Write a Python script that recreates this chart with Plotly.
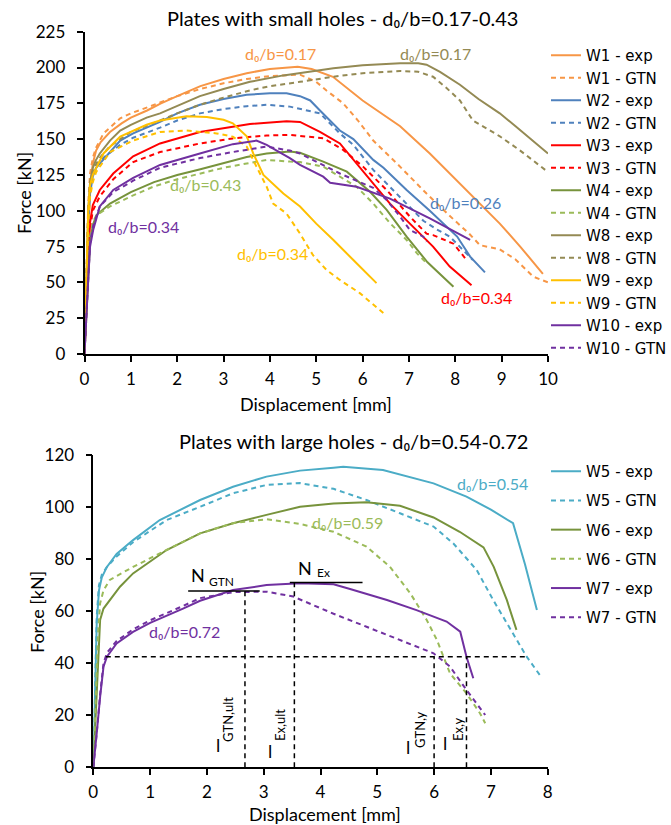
import plotly.graph_objects as go

W, H = 671, 825
FONT = "Lato"
LEG_FONT = "DejaVu Sans"

# ---------------- data: top chart (small holes) ----------------
W1_exp_x = [0, 0.04, 0.08, 0.12, 0.18, 0.25, 0.35, 0.55, 0.8, 1.0, 1.35, 1.65, 2.0, 2.5, 3.0, 3.5, 4.0, 4.6, 4.9, 5.36, 6.0, 6.81, 7.45, 8.04, 8.5, 8.96, 9.4, 9.89]
W1_exp_y = [0, 45, 90, 118, 133, 142, 148, 155, 161, 165, 170, 175, 180, 187, 192, 196, 199, 200.5, 199, 193.5, 177, 159, 140, 121, 106, 91, 75, 56]
W1_gtn_x = [0, 0.04, 0.08, 0.12, 0.18, 0.25, 0.41, 0.77, 1.0, 1.34, 1.65, 2.0, 2.5, 3.0, 3.5, 4.0, 4.65, 5.0, 5.22, 5.58, 5.9, 6.23, 6.74, 7.17, 7.38, 7.96, 8.3, 8.53, 8.96, 9.3, 9.68, 10.0]
W1_gtn_y = [0, 60, 105, 126, 137, 144, 154, 164.5, 168, 172, 176, 180, 185, 189, 192, 194, 195, 190, 184, 175, 163, 149, 133, 119, 112, 94, 84, 76, 73, 66, 54, 50]

W2_exp_x = [0, 0.04, 0.08, 0.12, 0.18, 0.25, 0.41, 0.77, 1.05, 1.34, 1.63, 2.0, 2.49, 3.0, 3.5, 4.0, 4.36, 4.65, 4.87, 5.08, 5.51, 5.8, 6.23, 6.45, 6.95, 7.45, 8.04, 8.32, 8.64]
W2_exp_y = [0, 45, 90, 112, 124, 130, 136, 149, 154, 158, 162, 168, 174, 178, 181, 182, 182, 180, 177, 170, 156, 150, 135.5, 130, 114.5, 100, 82, 68, 57]
W2_gtn_x = [0, 0.04, 0.08, 0.12, 0.18, 0.25, 0.41, 0.77, 1.05, 1.63, 2.0, 2.49, 3.0, 3.5, 3.93, 4.43, 4.65, 5.08, 5.51, 5.8, 6.23, 6.81, 7.17, 7.31, 7.6, 7.88, 8.38]
W2_gtn_y = [0, 50, 95, 115, 125, 131, 137, 146, 151, 158, 163, 168, 171, 173, 174, 172.7, 171, 168, 154, 146, 128.5, 109.8, 98, 93, 87, 82, 65.6]

W3_exp_x = [0, 0.04, 0.08, 0.12, 0.18, 0.33, 0.62, 1.05, 1.63, 2.49, 3.57, 4.36, 4.65, 5.08, 5.51, 5.87, 6.23, 6.59, 7.02, 7.38, 7.52, 7.88, 8.35]
W3_exp_y = [0, 35, 70, 92, 104, 114.5, 126, 138, 147, 155, 160.5, 162.5, 162, 155, 147, 133, 119, 105, 91, 79.6, 75, 61, 48]
W3_gtn_x = [0, 0.04, 0.08, 0.12, 0.18, 0.33, 0.62, 1.05, 1.63, 2.49, 3.2, 3.93, 4.43, 5.16, 5.58, 6.01, 6.52, 7.02, 7.38, 7.52, 7.96, 8.21]
W3_gtn_y = [0, 35, 68, 88, 100, 110, 122, 134, 141, 147, 150.5, 152.5, 153, 150.6, 142.5, 130.8, 114.5, 95.9, 84, 83, 77, 67]

W4_exp_x = [0, 0.04, 0.08, 0.12, 0.18, 0.26, 0.55, 1.0, 1.5, 2.0, 2.5, 3.0, 3.5, 3.93, 4.43, 4.65, 5.15, 5.66, 6.16, 6.52, 6.95, 7.4, 7.96]
W4_exp_y = [0, 30, 60, 78, 90, 97, 105, 113, 120, 125, 129, 133.5, 137.5, 140, 141.3, 140.5, 134.3, 127.3, 113.3, 100.6, 81.9, 64, 47]
W4_gtn_x = [0, 0.04, 0.08, 0.12, 0.18, 0.26, 0.55, 1.0, 1.5, 2.0, 2.5, 3.0, 3.5, 3.93, 4.43, 4.65, 5.15, 5.87, 6.23, 6.59, 6.95, 7.17, 7.38]
W4_gtn_y = [0, 35, 65, 82, 92, 97, 103, 110, 117, 122, 126, 130, 133, 135.5, 134.3, 134, 130.8, 116.8, 105, 91.4, 79.6, 70.4, 63.5]

W8_exp_x = [0, 0.04, 0.08, 0.12, 0.18, 0.24, 0.33, 0.55, 0.77, 1.0, 1.34, 1.63, 2.0, 2.49, 3.0, 3.57, 4.29, 4.65, 5.37, 6.0, 6.81, 7.2, 7.38, 7.67, 8.1, 8.5, 8.96, 9.3, 9.68, 10.0]
W8_exp_y = [0, 50, 100, 120, 130, 135, 140, 149, 156, 160, 165, 168, 173, 180, 185, 190, 194.5, 196, 199.5, 201.5, 203, 203, 202, 197, 188, 178, 168, 159, 149, 140]
W8_gtn_x = [0, 0.04, 0.08, 0.12, 0.18, 0.24, 0.33, 0.55, 1.0, 1.63, 2.0, 2.49, 3.0, 3.57, 4.0, 4.65, 5.37, 6.0, 6.81, 7.2, 7.52, 7.8, 8.1, 8.38, 8.96, 9.4, 10.0]
W8_gtn_y = [0, 55, 100, 118, 127, 132, 137, 145, 155, 163, 168, 174, 179, 184, 187, 190, 193.6, 196, 197.6, 197, 193.6, 186, 177, 163, 152, 142, 127]

W9_exp_x = [0, 0.04, 0.08, 0.12, 0.18, 0.23, 0.41, 0.77, 1.05, 1.34, 1.63, 2.2, 2.64, 3.0, 3.2, 3.5, 3.64, 3.86, 4.29, 4.65, 5.0, 5.37, 5.8, 6.3]
W9_exp_y = [0, 50, 100, 118, 125, 128.5, 140, 151.7, 156, 160, 163, 166, 165.5, 163.5, 161, 152, 140, 125, 112, 103, 91, 79.6, 65.6, 49.5]
W9_gtn_x = [0, 0.04, 0.08, 0.12, 0.18, 0.25, 0.55, 1.05, 1.63, 2.2, 2.85, 3.2, 3.5, 3.71, 3.93, 4.07, 4.36, 4.65, 4.93, 5.22, 5.51, 5.94, 6.45]
W9_gtn_y = [0, 45, 90, 110, 120, 127, 141, 149, 155, 156, 154, 151.7, 144.8, 130.8, 116.8, 105, 98, 84, 69, 58.7, 51.7, 42.5, 28.5]

W10_exp_x = [0, 0.04, 0.08, 0.12, 0.19, 0.33, 0.62, 1.05, 1.63, 2.49, 3.2, 3.71, 3.93, 4.43, 4.65, 5.15, 5.3, 5.87, 6.59, 7.45, 8.32]
W10_exp_y = [0, 30, 52, 75, 87, 103, 114.5, 123, 132, 140, 146.5, 149, 146, 136.7, 132, 123.8, 119.6, 116.8, 108.5, 94.7, 79.6]
W10_gtn_x = [0, 0.04, 0.08, 0.12, 0.19, 0.33, 0.62, 1.05, 1.63, 2.49, 3.2, 3.93, 4.43, 4.65, 5.08, 5.51, 5.94, 6.23, 6.52, 6.81, 7.02, 7.31, 7.38]
W10_gtn_y = [0, 30, 55, 78, 90, 103, 113, 121, 130, 136.8, 141, 144.8, 142, 140, 133, 126, 120, 116, 107.5, 95.9, 86.6, 81.9, 78.4]

# ---------------- data: bottom chart (large holes) ----------------
W5_exp_x = [0, 0.03, 0.06, 0.1, 0.15, 0.24, 0.41, 0.7, 1.17, 1.88, 2.46, 3.05, 3.64, 4.23, 4.4, 5.1, 5.99, 6.57, 7.0, 7.39, 7.6, 7.81]
W5_exp_y = [0, 30, 55, 68, 73, 77, 82, 87.3, 95, 102.7, 107.8, 111.7, 114, 115.1, 115.5, 114.2, 109.1, 104, 99, 93.8, 78, 60.4]
W5_gtn_x = [0, 0.03, 0.06, 0.1, 0.15, 0.24, 0.41, 0.7, 1.29, 1.88, 2.46, 3.05, 3.64, 4.23, 4.81, 5.4, 5.99, 6.34, 6.75, 7.04, 7.39, 7.63, 7.86]
W5_gtn_y = [0, 35, 58, 70, 74, 77, 81, 86.5, 95, 100.1, 105.3, 108.5, 109.2, 107, 102.7, 97.6, 92.5, 86, 75.8, 64.3, 51.5, 42.5, 35.5]

W6_exp_x = [0, 0.04, 0.08, 0.12, 0.18, 0.29, 0.47, 0.7, 1.29, 1.88, 2.46, 3.05, 3.64, 4.23, 4.81, 5.4, 5.99, 6.45, 6.87, 7.05, 7.28, 7.45]
W6_exp_y = [0, 20, 40, 56.6, 61, 64.3, 69.4, 74.5, 83.5, 89.9, 93.8, 97, 100.1, 101.4, 101.8, 100.5, 96, 90.5, 84.5, 77, 64.3, 52.8]
W6_gtn_x = [0, 0.04, 0.08, 0.12, 0.18, 0.29, 0.7, 1.29, 1.88, 2.46, 3.05, 3.64, 4.23, 4.81, 5.22, 5.58, 5.87, 6.05, 6.28, 6.57, 6.81, 6.9]
W6_gtn_y = [0, 25, 50, 63, 68, 72, 77, 83.5, 89.9, 93.8, 95.3, 93.5, 90.5, 84.8, 77.1, 66.9, 56.6, 48.9, 36.1, 28.4, 20.7, 16.9]

W7_exp_x = [0, 0.03, 0.06, 0.12, 0.18, 0.24, 0.41, 0.7, 1.0, 1.58, 1.88, 2.46, 3.05, 3.64, 4.23, 4.52, 5.17, 5.69, 6.22, 6.46, 6.57, 6.69]
W7_exp_y = [0, 6, 13, 27, 38.7, 42.5, 47.6, 52, 55.5, 61, 64, 68.1, 70, 70.7, 70.3, 68.5, 64.3, 60.4, 56, 52.1, 42.5, 34.2]
W7_gtn_x = [0, 0.03, 0.06, 0.12, 0.18, 0.24, 0.41, 0.7, 1.0, 1.58, 1.88, 2.46, 3.05, 3.52, 4.23, 4.81, 5.4, 5.99, 6.28, 6.57, 6.9]
W7_gtn_y = [0, 6, 13, 28, 40, 44, 48.5, 53, 56.5, 62, 65, 67.3, 67.5, 65.6, 59, 54, 48.9, 43.8, 38.7, 29.7, 20.1]

# reference values of the W7 construction (bottom chart)
N_GTN = 67.7
N_EX = 71.0
F_YIELD = 42.5
L_GTN_ULT = 2.67
L_EX_ULT = 3.54
L_GTN_Y = 6.0
L_EX_Y = 6.57

top_x_ticks = list(range(0, 11))
top_y_ticks = list(range(0, 226, 25))
bot_x_ticks = list(range(0, 9))
bot_y_ticks = list(range(0, 121, 20))

# ---------------- styles ----------------
ORANGE = "#F79646"; BLUE = "#4F81BD"; RED = "#FF0000"; GREEN = "#77933C"; LGREEN = "#9BBB59"
KHAKI = "#948A54"; GOLD = "#FFC000"; PURPLE = "#7030A0"; CYAN = "#4BACC6"
DASH = "5px,4px"

top_series = [
    ("W1 - exp", W1_exp_x, W1_exp_y, ORANGE, "solid"),
    ("W1 - GTN", W1_gtn_x, W1_gtn_y, ORANGE, DASH),
    ("W2 - exp", W2_exp_x, W2_exp_y, BLUE, "solid"),
    ("W2 - GTN", W2_gtn_x, W2_gtn_y, BLUE, DASH),
    ("W3 - exp", W3_exp_x, W3_exp_y, RED, "solid"),
    ("W3 - GTN", W3_gtn_x, W3_gtn_y, RED, DASH),
    ("W4 - exp", W4_exp_x, W4_exp_y, GREEN, "solid"),
    ("W4 - GTN", W4_gtn_x, W4_gtn_y, LGREEN, DASH),
    ("W8 - exp", W8_exp_x, W8_exp_y, KHAKI, "solid"),
    ("W8 - GTN", W8_gtn_x, W8_gtn_y, KHAKI, DASH),
    ("W9 - exp", W9_exp_x, W9_exp_y, GOLD, "solid"),
    ("W9 - GTN", W9_gtn_x, W9_gtn_y, GOLD, DASH),
    ("W10 - exp", W10_exp_x, W10_exp_y, PURPLE, "solid"),
    ("W10 - GTN", W10_gtn_x, W10_gtn_y, PURPLE, DASH),
]
bot_series = [
    ("W5 - exp", W5_exp_x, W5_exp_y, CYAN, "solid"),
    ("W5 - GTN", W5_gtn_x, W5_gtn_y, CYAN, DASH),
    ("W6 - exp", W6_exp_x, W6_exp_y, GREEN, "solid"),
    ("W6 - GTN", W6_gtn_x, W6_gtn_y, LGREEN, DASH),
    ("W7 - exp", W7_exp_x, W7_exp_y, PURPLE, "solid"),
    ("W7 - GTN", W7_gtn_x, W7_gtn_y, PURPLE, DASH),
]


def px(x):
    return x / W


def py(y):
    return 1 - y / H


fig = go.Figure()
for name, xs, ys, col, dash in top_series:
    fig.add_trace(go.Scatter(x=xs, y=ys, mode="lines", name=name, xaxis="x", yaxis="y",
                             legend="legend", line=dict(color=col, width=2, dash=dash)))
for name, xs, ys, col, dash in bot_series:
    fig.add_trace(go.Scatter(x=xs, y=ys, mode="lines", name=name, xaxis="x2", yaxis="y2",
                             legend="legend2", legendgroup=name,
                             line=dict(color=col, width=2, dash=dash)))

axis_common = dict(showline=True, linecolor="black", linewidth=1.5, ticks="outside",
                   ticklen=6, tickwidth=1.5, tickcolor="black", showgrid=False,
                   zeroline=False, automargin=False,
                   tickfont=dict(family=FONT, size=17, color="black"))

fig.update_layout(
    width=W, height=H, margin=dict(l=0, r=0, t=0, b=0, pad=0, autoexpand=False),
    paper_bgcolor="white", plot_bgcolor="white",
    font=dict(family=FONT, color="black"),
    xaxis=dict(domain=[px(84.5), px(548)], range=[0, 10], tickvals=top_x_ticks,
               anchor="y", ticklabelstandoff=3, **axis_common),
    yaxis=dict(domain=[py(354), py(31.7)], range=[0, 225], tickvals=top_y_ticks,
               anchor="x", ticklabelstandoff=8, **axis_common),
    xaxis2=dict(domain=[px(93.3), px(547.7)], range=[0, 8], tickvals=bot_x_ticks,
                anchor="y2", ticklabelstandoff=3, **axis_common),
    yaxis2=dict(domain=[py(767.3), py(455)], range=[0, 120], tickvals=bot_y_ticks,
                anchor="x2", ticklabelstandoff=8, **axis_common),
    legend=dict(x=px(546), y=py(39), xanchor="left", yanchor="top",
                font=dict(family=LEG_FONT, size=15, color="black"),
                bgcolor="rgba(0,0,0,0)", itemwidth=30),
    legend2=dict(x=px(546), y=py(455), xanchor="left", yanchor="top",
                 font=dict(family=LEG_FONT, size=15, color="black"),
                 bgcolor="rgba(0,0,0,0)", itemwidth=30, tracegroupgap=6.7),
)

ann = []


def add_text(text, x, y, size, color="black", xref="paper", yref="paper", angle=0):
    ann.append(dict(text=text, x=x, y=y, xref=xref, yref=yref, showarrow=False,
                    xanchor="center", yanchor="middle", textangle=angle,
                    font=dict(family=FONT, size=size, color=color)))


# titles and axis titles
add_text("Plates with small holes - d₀/b=0.17-0.43", px(343), py(18), 20)
add_text("Plates with large holes - d₀/b=0.54-0.72", px(353), py(441), 20)
add_text("Displacement [mm]", px(316), py(404), 18)
add_text("Displacement [mm]", px(325), py(814), 18)
add_text("Force [kN]", px(24), py(193), 18, angle=-90)
add_text("Force [kN]", px(37), py(612), 18, angle=-90)

# top labels (data coordinates)
for txt, col, x, y in [
    ("0.17", ORANGE, 4.22, 210), ("0.17", KHAKI, 7.58, 210), ("0.43", LGREEN, 2.62, 118),
    ("0.34", PURPLE, 1.28, 89), ("0.34", GOLD, 4.05, 70), ("0.26", BLUE, 8.21, 106),
    ("0.34", RED, 8.45, 39.5)]:
    add_text("d₀/b=" + txt, x, y, 16, col, "x", "y")

# bottom labels
for txt, col, x, y in [("0.54", CYAN, 7.02, 109), ("0.59", LGREEN, 4.47, 94),
                       ("0.72", PURPLE, 1.6, 52)]:
    add_text("d₀/b=" + txt, x, y, 16, col, "x2", "y2")

# N labels: main letter + smaller index
add_text("N", 1.835, 73.9, 18, "black", "x2", "y2")
add_text("GTN", 2.26, 71.4, 12, "black", "x2", "y2")
add_text("N", 3.73, 76.4, 18, "black", "x2", "y2")
add_text("Ex", 4.06, 74.9, 12, "black", "x2", "y2")

# displacement labels: letter l + rotated index
for (lx, ly), (sx, sy), sub in [((218, 745), (228, 720), "GTN,ult"), ((270, 751), (280, 725), "Ex,ult"),
                                 ((408, 747), (420, 730), "GTN,y"), ((445, 743), (458, 730), "Ex,y")]:
    add_text("l", px(lx), py(ly), 18)
    add_text(sub, px(sx), py(sy), 13, angle=-90)

fig.update_layout(annotations=ann)

# construction lines (bottom chart)
dash_line = dict(color="black", width=1.5, dash="5px,4px")
solid_line = dict(color="black", width=1.5)
shapes = [
    dict(type="line", xref="x2", yref="y2", x0=0.22, x1=7.63, y0=F_YIELD, y1=F_YIELD, line=dash_line),
    dict(type="line", xref="x2", yref="y2", x0=L_GTN_ULT, x1=L_GTN_ULT, y0=0, y1=N_GTN, line=dash_line),
    dict(type="line", xref="x2", yref="y2", x0=L_EX_ULT, x1=L_EX_ULT, y0=0, y1=N_EX, line=dash_line),
    dict(type="line", xref="x2", yref="y2", x0=L_GTN_Y, x1=L_GTN_Y, y0=0, y1=F_YIELD, line=dash_line),
    dict(type="line", xref="x2", yref="y2", x0=L_EX_Y, x1=L_EX_Y, y0=0, y1=F_YIELD, line=dash_line),
    dict(type="line", xref="x2", yref="y2", x0=1.67, x1=2.93, y0=N_GTN, y1=N_GTN, line=solid_line),
    dict(type="line", xref="x2", yref="y2", x0=3.46, x1=4.74, y0=N_EX, y1=N_EX, line=solid_line),
]
fig.update_layout(shapes=shapes)

fig.write_html("out.html")
